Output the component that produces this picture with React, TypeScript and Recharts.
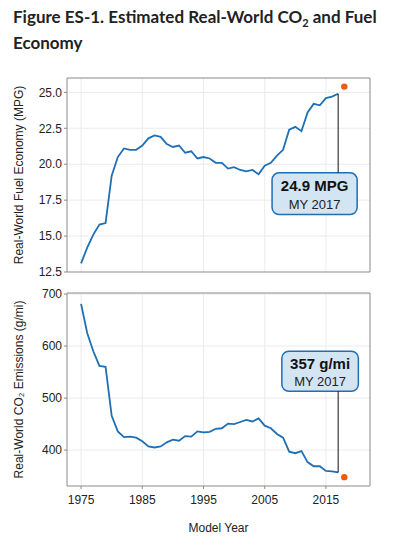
import React from "react"
import {
  ComposedChart,
  Line,
  Scatter,
  XAxis,
  YAxis,
  CartesianGrid,
  ReferenceArea,
  ReferenceLine,
} from "recharts"

// Model years and the two real-world series
const years = [
  1975, 1976, 1977, 1978, 1979, 1980, 1981, 1982, 1983, 1984, 1985, 1986, 1987, 1988, 1989,
  1990, 1991, 1992, 1993, 1994, 1995, 1996, 1997, 1998, 1999, 2000, 2001, 2002, 2003, 2004,
  2005, 2006, 2007, 2008, 2009, 2010, 2011, 2012, 2013, 2014, 2015, 2016, 2017,
]
const mpgValues = [
  13.1, 14.2, 15.1, 15.8, 15.9, 19.2, 20.5, 21.1, 21.0, 21.0, 21.3, 21.8, 22.0, 21.9, 21.4,
  21.2, 21.3, 20.8, 20.9, 20.4, 20.5, 20.4, 20.1, 20.1, 19.7, 19.8, 19.6, 19.5, 19.6, 19.3,
  19.9, 20.1, 20.6, 21.0, 22.4, 22.6, 22.3, 23.6, 24.2, 24.1, 24.6, 24.7, 24.9,
]
const co2Values = [
  681, 625, 590, 562, 560, 466, 436, 425, 426, 424, 417, 407, 405, 407, 415,
  420, 418, 427, 426, 436, 434, 435, 441, 442, 451, 450, 454, 458, 455, 461,
  447, 442, 431, 424, 397, 394, 398, 377, 369, 369, 360, 359, 357,
]

// Preliminary 2018 projection (orange dot)
const prelimYear = 2018
const prelimMpg = 25.4
const prelimCo2 = 348

const xTicks = [1975, 1985, 1995, 2005, 2015]
const mpgTicks = [12.5, 15, 17.5, 20, 22.5, 25]
const co2Ticks = [400, 500, 600, 700]
const xDomain = [1972.7, 2022.2]
const mpgDomain = [12.5, 26.0]
const co2Domain = [331, 702]

// Callout boxes: [x1, x2] in years, [y1, y2] in data units
const mpgBoxX = [2006.2, 2020.1]
const mpgBoxY = [16.5, 19.4]
const co2BoxX = [2007.8, 2020.3]
const co2BoxY = [513, 590]

const mpgData = years.map((year, i) => ({ year, value: mpgValues[i] }))
const co2Data = years.map((year, i) => ({ year, value: co2Values[i] }))

const LINE = "#1f6fb4"
const ORANGE = "#f05a0f"
const GRID = "#ebebeb"
const BORDER = "#8a8a8a"
const FONT = "'Liberation Sans', Arial, sans-serif"

const tickStyle = { fontSize: 12, fill: "#222", fontFamily: FONT }

const Callout = (props: any) => {
  const { x, y, width, height, title, sub } = props
  const cx = x + width / 2
  return (
    <g>
      <rect x={x} y={y} width={width} height={height} rx={7} ry={7}
        fill="#d3e4f3" stroke="#1f6fb4" strokeWidth={1.5} />
      <text x={cx} y={y + height * 0.3} textAnchor="middle" dominantBaseline="central"
        fontFamily={FONT} fontSize={15} fontWeight="bold" fill="#111">{title}</text>
      <text x={cx} y={y + height * 0.75} textAnchor="middle" dominantBaseline="central"
        fontFamily={FONT} fontSize={13} fill="#222">{sub}</text>
    </g>
  )
}

export default function App() {
  return (
    <div style={{ position: "absolute", left: 0, top: 0, width: 395, height: 555, background: "#fff" }}>
      <div
        style={{
          position: "absolute",
          left: 13,
          top: 4,
          fontFamily: "Lato, 'Open Sans', sans-serif",
          fontWeight: 700,
          fontSize: 17,
          lineHeight: "26px",
          color: "#222",
        }}
      >
        Figure ES-1. Estimated Real-World CO<sub style={{ fontSize: 11, lineHeight: 0 }}>2</sub> and Fuel
        <br />
        Economy
      </div>

      <div style={{ position: "absolute", left: 0, top: 70 }}>
        <ComposedChart width={395} height={210} data={mpgData}
          margin={{ top: 8, right: 25, bottom: 8, left: 0 }}>
          <CartesianGrid stroke={GRID} vertical horizontal
            verticalValues={xTicks} horizontalValues={mpgTicks} />
          <XAxis dataKey="year" type="number" domain={xDomain} ticks={xTicks}
            allowDataOverflow hide />
          <YAxis type="number" domain={mpgDomain} ticks={mpgTicks} allowDataOverflow
            width={67} tick={tickStyle} tickSize={3} tickLine={{ stroke: BORDER }}
            axisLine={false} tickFormatter={(v: number) => v.toFixed(1)}
            label={{
              value: "Real-World Fuel Economy (MPG)",
              angle: -90,
              position: "insideLeft",
              offset: 19,
              style: { textAnchor: "middle", fontSize: 12, fill: "#222", fontFamily: FONT },
            }} />
          <ReferenceArea x1={xDomain[0]} x2={xDomain[1]} y1={mpgDomain[0]} y2={mpgDomain[1]}
            fill="none" stroke={BORDER} strokeWidth={1} ifOverflow="visible" />
          <Line dataKey="value" stroke={LINE} strokeWidth={1.8} dot={false}
            isAnimationActive={false} />
          <ReferenceLine segment={[{ x: years[years.length - 1], y: mpgValues[mpgValues.length - 1] },
            { x: years[years.length - 1], y: mpgBoxY[1] }]} stroke="#111" strokeWidth={1} />
          <ReferenceArea x1={mpgBoxX[0]} x2={mpgBoxX[1]} y1={mpgBoxY[0]} y2={mpgBoxY[1]}
            ifOverflow="visible"
            shape={(p: any) => <Callout {...p} title="24.9 MPG" sub="MY 2017" />} />
          <Scatter data={[{ year: prelimYear, value: prelimMpg }]} dataKey="value"
            fill={ORANGE} shape={(p: any) => <circle cx={p.cx} cy={p.cy} r={3.2} fill={ORANGE} />}
            isAnimationActive={false} />
        </ComposedChart>
      </div>

      <div style={{ position: "absolute", left: 0, top: 285 }}>
        <ComposedChart width={395} height={270} data={co2Data}
          margin={{ top: 8, right: 25, bottom: 19, left: 0 }}>
          <CartesianGrid stroke={GRID} vertical horizontal
            verticalValues={xTicks} horizontalValues={co2Ticks} />
          <XAxis dataKey="year" type="number" domain={xDomain} ticks={xTicks} allowDataOverflow
            height={50} tick={tickStyle} tickSize={3} tickMargin={6} tickLine={{ stroke: BORDER }}
            axisLine={false}
            label={{
              value: "Model Year",
              position: "insideBottom",
              offset: 4,
              style: { fontSize: 12, fill: "#222", fontFamily: FONT },
            }} />
          <YAxis type="number" domain={co2Domain} ticks={co2Ticks} allowDataOverflow
            width={67} tick={tickStyle} tickSize={3} tickLine={{ stroke: BORDER }}
            axisLine={false}
            label={{
              value: "Real-World CO₂ Emissions (g/mi)",
              angle: -90,
              position: "insideLeft",
              offset: 19,
              style: { textAnchor: "middle", fontSize: 12, fill: "#222", fontFamily: FONT },
            }} />
          <ReferenceArea x1={xDomain[0]} x2={xDomain[1]} y1={co2Domain[0]} y2={co2Domain[1]}
            fill="none" stroke={BORDER} strokeWidth={1} ifOverflow="visible" />
          <Line dataKey="value" stroke={LINE} strokeWidth={1.8} dot={false}
            isAnimationActive={false} />
          <ReferenceLine segment={[{ x: years[years.length - 1], y: co2Values[co2Values.length - 1] },
            { x: years[years.length - 1], y: co2BoxY[0] }]} stroke="#111" strokeWidth={1} />
          <ReferenceArea x1={co2BoxX[0]} x2={co2BoxX[1]} y1={co2BoxY[0]} y2={co2BoxY[1]}
            ifOverflow="visible"
            shape={(p: any) => <Callout {...p} title="357 g/mi" sub="MY 2017" />} />
          <Scatter data={[{ year: prelimYear, value: prelimCo2 }]} dataKey="value"
            fill={ORANGE} shape={(p: any) => <circle cx={p.cx} cy={p.cy} r={3.2} fill={ORANGE} />}
            isAnimationActive={false} />
        </ComposedChart>
      </div>
    </div>
  )
}
